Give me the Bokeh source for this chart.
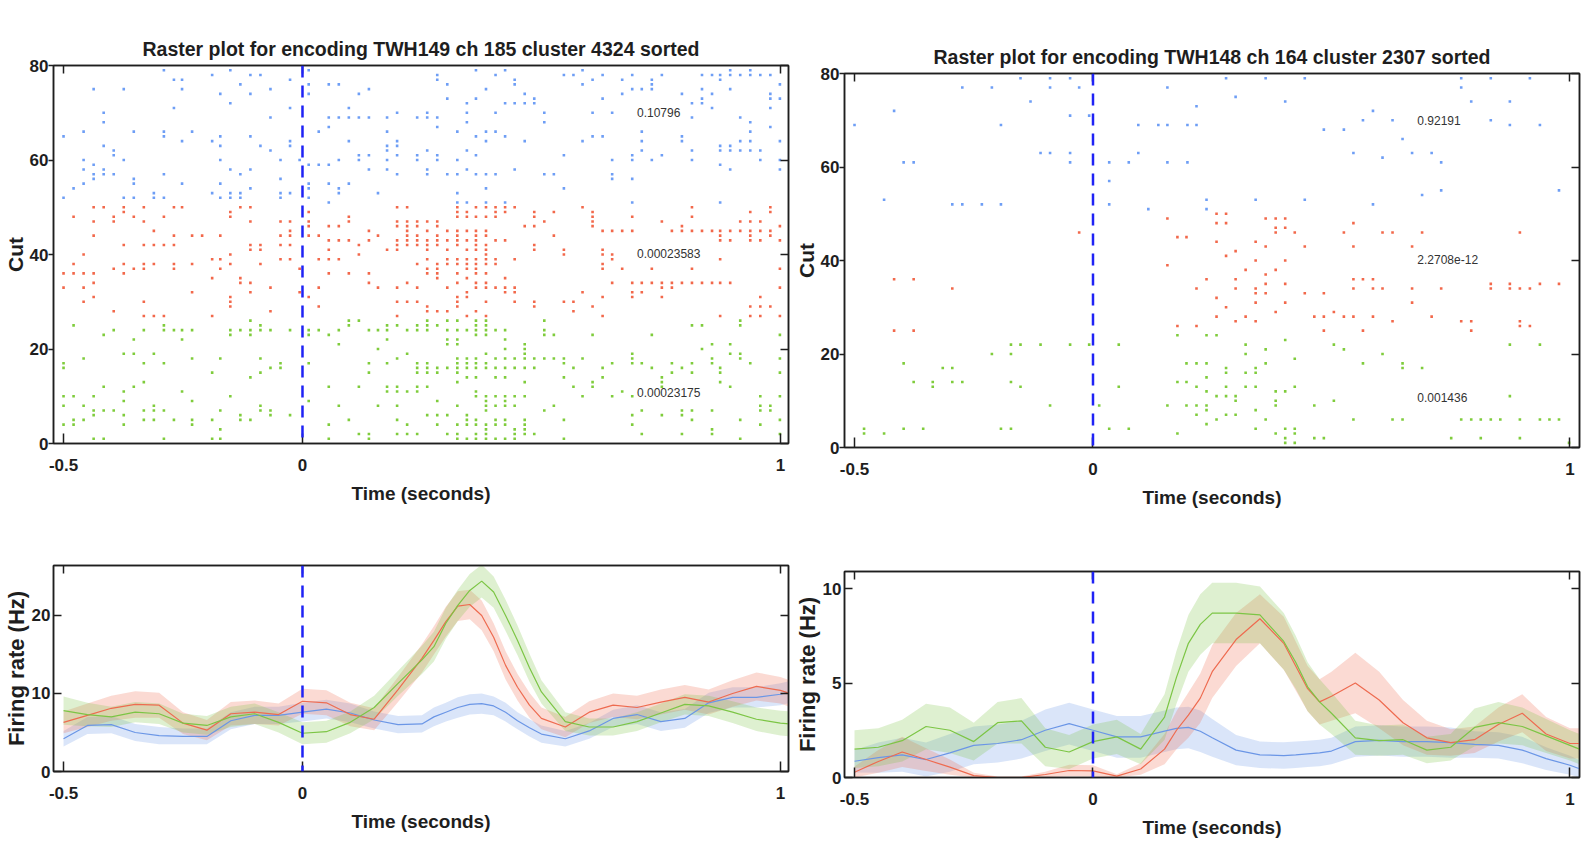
from bokeh.plotting import figure
from bokeh.models import Span, LinearAxis, FixedTicker, Range1d, CustomJSTickFormatter
from bokeh.layouts import column, row
from bokeh.embed import file_html
from bokeh.resources import INLINE
from bokeh.core.properties import value

# ---------------- data: raster spikes, (time, [trial numbers]) ----------------
L_BLUE = [(-0.500,[65,52]),(-0.479,[54]),(-0.458,[66,60,58,55]),(-0.437,[75,59,57,56]),(-0.416,[70,68,63,58,57]),
 (-0.395,[62,61,57]),(-0.374,[75,60,52]),(-0.353,[66,56,55,52]),(-0.311,[53,52]),(-0.290,[79,66,65,57,52]),
 (-0.269,[77,71]),(-0.252,[77,75,64,55]),(-0.231,[66]),(-0.189,[78,64,53]),(-0.172,[74,65,63,60,55,52]),
 (-0.151,[79,72,58,53,52]),(-0.130,[76,57,53,52]),(-0.109,[78,74,65,58,54]),(-0.088,[78,63]),(-0.067,[75,69,62]),
 (-0.046,[60,56,53,52]),(-0.026,[77,71,64,63,53]),(-0.006,[60]),(0.013,[79,76,74,59,55,54,52]),(0.034,[66,59]),
 (0.055,[76,69,67,59,55,51]),(0.076,[76,69,60,54,53]),(0.097,[71,69,64,55]),(0.118,[74,69,61,60]),
 (0.139,[75,69,61,58]),(0.158,[53]),(0.177,[69,66,63,62,60,58]),(0.198,[70,64,63,61,57]),(0.240,[69,61,60]),
 (0.261,[70,69,62,58,57]),(0.282,[78,77,69,67,61,60]),(0.303,[76,73,57]),(0.324,[66,60,57,53,51]),
 (0.344,[72,70,68,62,58,51]),(0.363,[79,73,65,61,57]),(0.384,[75,66,64,57,54,51]),(0.404,[78,70,66,57]),
 (0.424,[79,72,65,51]),(0.444,[77,76,72,58]),(0.465,[74,72,64]),(0.485,[73,72]),(0.506,[70,68,57]),(0.526,[57]),
 (0.547,[78,61,54]),(0.567,[78]),(0.586,[79,76,64]),(0.607,[77,70,65]),(0.628,[78,73,65]),(0.648,[70,60,57,56]),
 (0.669,[77,74]),(0.690,[78,75,61,60,56,51]),(0.710,[75,66,64,62]),(0.731,[77,76,75,60]),(0.752,[78,61]),
 (0.794,[74,65,64]),(0.815,[72,69,62,60]),(0.836,[78,75,73,72]),(0.857,[78,74,71]),(0.874,[78,77,63,62,59,51]),
 (0.895,[79,78,75,63,62,58]),(0.916,[78,69,64,62]),(0.937,[79,78,68,66,64,62]),(0.958,[78,62,60]),
 (0.979,[78,74,73,71,67]),(0.999,[76,73,64,60,58])]

L_RED = [(-0.500,[36,33]),(-0.479,[48,38,36]),(-0.458,[40,36,33,30]),(-0.437,[50,47,44,36,34,31]),(-0.416,[50]),
 (-0.395,[48,47,37,28]),(-0.374,[50,49,42,38,36]),(-0.353,[48,37]),(-0.332,[50,47,42,38,37,30,27]),
 (-0.311,[45,42,38,27]),(-0.290,[48,42,27]),(-0.269,[50,44,42,38,37]),(-0.252,[50]),(-0.231,[44,38,32]),
 (-0.210,[44]),(-0.189,[39,35,27]),(-0.172,[44,39,37]),(-0.151,[49,48,40,38,31,30,29]),(-0.130,[50,35,34]),
 (-0.109,[50,47,42,41,34,32]),(-0.088,[42,41,38]),(-0.067,[33,28]),(-0.046,[47,44,42,39]),
 (-0.026,[47,45,44,42,39]),(-0.006,[37,32]),(0.013,[49,47,46,44,31]),(0.034,[44,39,33,29]),
 (0.055,[46,43,41,39,36]),(0.076,[46,43,39]),(0.097,[48,47,43,36]),(0.118,[42,40]),(0.139,[45,43,36,34]),
 (0.158,[44,33]),(0.177,[41]),(0.198,[50,47,46,43,42,41,33,30,27]),(0.219,[50,47,46,45,44,43,42,34,30]),
 (0.240,[47,46,44,43,42,38,33,30]),(0.261,[47,45,43,42,41,39,37,36,29,28]),
 (0.282,[47,46,44,43,42,38,37,36,35,28]),(0.303,[45,43,41,39,38,33,28]),
 (0.324,[50,49,48,45,44,43,42,39,38,36,34,31,30,29]),(0.344,[49,48,45,43,41,39,38,37,35,32,31,27]),
 (0.363,[50,48,45,44,43,42,41,39,38,37,36,34,33,28]),(0.384,[50,48,45,44,42,41,40,39,38,36,34,33,30,27]),
 (0.404,[50,49,48,43,39,38,33]),(0.424,[50,49,43,35,33,32]),(0.444,[50,39,33,32,30]),(0.465,[46]),
 (0.485,[49,48,46,42,41,30,29]),(0.506,[47]),(0.526,[49,44]),(0.547,[41,40,30]),(0.567,[30,28]),(0.586,[50,32]),
 (0.607,[49,48,47,46,29]),(0.628,[45,41,40,38,37,31,27]),(0.648,[45,40,39,34]),(0.669,[45,37]),
 (0.690,[48,45,34,32,31]),(0.710,[34,32]),(0.731,[37,34]),(0.752,[47,34,33,31]),(0.773,[45,34,33]),
 (0.794,[46,45,34]),(0.815,[50,48,45,37,34]),(0.836,[45,34]),(0.857,[45,34]),(0.874,[45,44,43,39,34,27]),
 (0.895,[45,43,34]),(0.916,[47,45]),(0.937,[49,47,45,44,43,29,27]),(0.958,[47,45,43,31,29,27]),
 (0.979,[50,49,45,44,29]),(0.999,[46,43,37,33,27])]

L_GREEN = [(-0.500,[17,16,10,8,4]),(-0.479,[25,10,5,4]),(-0.458,[18,8,5]),(-0.437,[10,7,6,1]),(-0.416,[23,12,7,1]),
 (-0.395,[24,7]),(-0.374,[19,11,9,6,4]),(-0.353,[22,19,12]),(-0.332,[24,17,13,7,5]),(-0.311,[19,8,7,5]),
 (-0.290,[25,24,17,7,1]),(-0.269,[24,5]),(-0.252,[24,22,11]),(-0.231,[24,18,9,5,4]),(-0.189,[15,5,1]),
 (-0.172,[18,7,3,1]),(-0.151,[24,23,10]),(-0.130,[24,6,5]),(-0.109,[26,24,23,14,5]),(-0.088,[25,24,18,15,8,7]),
 (-0.067,[24,16,7,6]),(-0.046,[17,16]),(-0.026,[24,6]),(0.013,[24,23,17,9]),(0.034,[24]),(0.055,[23,12,4,1]),
 (0.076,[24,21,8]),(0.097,[26,25,5]),(0.118,[26,12,2]),(0.139,[24,17,15,2,1]),(0.158,[24,20,8]),
 (0.177,[25,24,22,17,12,11]),(0.198,[25,18,12,11,8,5,2]),(0.219,[24,19,11,4,2]),(0.240,[25,24,17,16,15,12,11,2]),
 (0.261,[26,25,24,17,16,15,12,6]),(0.282,[25,16,15,9,6,4]),(0.303,[26,24,22,21,16,6,2]),
 (0.324,[26,24,22,21,18,17,16,15,13,8,4,2,1]),(0.344,[24,18,17,16,14,6,5,4,1]),
 (0.363,[26,25,24,23,18,17,16,14,11,10,5,4,2,1]),(0.384,[26,25,24,23,19,17,16,10,9,8,7,4,3,2,1]),
 (0.404,[24,18,16,14,10,8,5,4,1]),(0.424,[24,22,20,18,16,14,10,9,8,5,4,1]),(0.444,[18,16,10,8,3,2,1]),
 (0.465,[21,20,19,18,16,13,10,5,4,3,2]),(0.485,[18,16,2]),(0.506,[26,24,23,18,7]),(0.526,[23,18,8]),
 (0.547,[18,17,14,5,1]),(0.567,[16,12]),(0.586,[18,10]),(0.607,[23,13,12]),(0.628,[16,14]),(0.648,[17,10]),
 (0.669,[11]),(0.690,[19,18,17,10,6,4]),(0.710,[17,7,2]),(0.731,[23,16]),(0.752,[14,13,12,6]),(0.773,[17,15]),
 (0.794,[16,7,6,2]),(0.815,[25,17,15,7,5]),(0.836,[25,20]),(0.857,[21,18,17,7,3,2]),(0.874,[16,15,13]),
 (0.895,[21,19,12]),(0.916,[26,25,19,18,5,1]),(0.937,[17]),(0.958,[10,8,7,4]),(0.979,[8,7]),
 (0.999,[23,18,15,10,5,2])]

R_BLUE = [(-0.500,[69]),(-0.438,[53]),(-0.417,[72]),(-0.397,[61]),(-0.376,[61]),(-0.295,[52]),(-0.274,[77,52]),
 (-0.233,[52]),(-0.212,[77]),(-0.193,[69,52]),(-0.152,[79]),(-0.131,[74]),(-0.110,[63]),(-0.090,[79,77,63]),
 (-0.048,[79,71,63,61]),(-0.029,[77]),(-0.008,[71]),(0.034,[61,57,52]),(0.075,[61]),(0.095,[69,63]),(0.116,[51]),
 (0.137,[69]),(0.156,[77,69,61]),(0.198,[69,61]),(0.217,[73,69]),(0.238,[53,51]),(0.279,[79]),(0.299,[75]),
 (0.341,[53]),(0.362,[79]),(0.403,[74]),(0.444,[79,53]),(0.484,[68]),(0.526,[68]),(0.546,[63]),(0.566,[70]),
 (0.587,[72,52]),(0.607,[62]),(0.628,[70]),(0.649,[66]),(0.669,[63]),(0.690,[54]),(0.710,[63]),(0.730,[61,55]),
 (0.772,[79,77]),(0.793,[74]),(0.834,[79,70]),(0.874,[74,69]),(0.916,[79]),(0.937,[69]),(0.977,[55])]

R_RED = [(-0.417,[36,25]),(-0.376,[36,25]),(-0.295,[34]),(-0.029,[46]),(0.156,[49,39]),(0.177,[45,26]),
 (0.196,[45]),(0.217,[34,26]),(0.238,[36]),(0.259,[50,48,44,32,28]),(0.279,[50,48,41,30]),(0.299,[42,36,34,27]),
 (0.320,[38,28]),(0.341,[44,40,34,33,31,27]),(0.362,[49,43,37,35,33]),(0.383,[49,47,46,38,29]),
 (0.403,[49,47,40,35,31]),(0.423,[46]),(0.444,[43,33]),(0.464,[28]),(0.484,[33,28,25]),(0.505,[29]),
 (0.526,[46,28]),(0.546,[48,43,36,34,28]),(0.566,[36,25]),(0.587,[36,34,28]),(0.607,[46,34]),(0.628,[46,27]),
 (0.669,[43,34,31]),(0.690,[46]),(0.710,[28]),(0.730,[34]),(0.772,[27]),(0.793,[27,25]),(0.834,[35,34]),
 (0.874,[35,34]),(0.895,[46,34,27,26]),(0.916,[34,26]),(0.937,[35]),(0.977,[35])]

R_GREEN = [(-0.480,[4,3]),(-0.438,[3]),(-0.397,[18,4]),(-0.376,[14]),(-0.356,[4]),(-0.336,[14,13]),(-0.315,[17]),
 (-0.295,[17,14]),(-0.274,[14]),(-0.212,[20]),(-0.193,[4]),(-0.172,[22,20,14,4]),(-0.152,[22,13]),(-0.110,[22]),
 (-0.090,[9]),(-0.048,[22]),(-0.008,[22]),(0.013,[9]),(0.034,[4]),(0.054,[22,13]),(0.075,[4]),(0.156,[9]),
 (0.177,[24,14,3]),(0.196,[18,14,9]),(0.217,[18,13,9,7]),(0.238,[24,18,15,12,9,8,5]),(0.259,[24,11,6]),
 (0.279,[17,16,13,11,7]),(0.299,[11,10,7]),(0.320,[22,20,16,13]),(0.341,[17,16,13,8,4]),(0.362,[21,18,6]),
 (0.383,[12,10,9,3]),(0.403,[23,12,4,2,1]),(0.423,[19,13,4,3,1]),(0.464,[9,2]),(0.484,[2]),(0.505,[22,10]),
 (0.526,[21]),(0.546,[6]),(0.566,[18]),(0.607,[20]),(0.628,[6]),(0.649,[18,17,6]),(0.690,[17]),(0.751,[2]),
 (0.772,[6]),(0.793,[6]),(0.813,[6,2]),(0.834,[6]),(0.854,[6]),(0.874,[22,11]),(0.895,[6,2]),(0.937,[22,6]),
 (0.957,[6]),(0.977,[6]),(0.998,[1])]

# ---------------- data: p-values printed in rasters ----------------
L_PVALS = ["0.10796", "0.00023583", "0.00023175"]
R_PVALS = ["0.92191", "2.2708e-12", "0.001436"]

# ---------------- data: firing rates (Hz) and SEM, left panel ----------------
T_L = [-0.5,-0.45,-0.4,-0.35,-0.3,-0.25,-0.2,-0.15,-0.1,-0.05,0.0,0.05,0.1,0.15,0.2,0.25,
       0.275,0.3,0.325,0.35,0.375,0.4,0.425,0.45,0.475,
       0.5,0.55,0.6,0.65,0.7,0.75,0.8,0.85,0.9,0.95,1.0,1.02]
L_FR_BLUE = [4.2,5.9,6.0,5.0,4.6,4.5,4.5,6.5,7.2,7.2,7.6,8.0,7.5,6.6,6.0,6.1,
             7.0,7.6,8.2,8.6,8.7,8.4,7.6,6.5,5.6,
             4.8,4.2,5.2,6.8,7.3,6.4,6.8,8.8,9.5,9.5,9.9,10.2]
L_SEM_BLUE = [1.0,1.1,1.1,1.1,1.1,1.0,1.0,1.1,1.1,1.1,1.2,1.2,1.2,1.1,1.1,1.1,
              1.2,1.2,1.3,1.3,1.3,1.2,1.2,1.1,1.1,
              1.1,1.0,1.0,1.1,1.2,1.2,1.2,1.3,1.3,1.3,1.4,1.4]
L_FR_RED = [6.3,7.2,8.1,8.6,8.5,6.2,5.3,7.4,7.6,7.3,9.0,8.8,7.3,6.7,10.5,14.5,
            16.8,19.2,21.2,21.4,20.0,17.2,13.6,10.8,8.5,
            6.8,5.7,7.6,8.5,8.2,8.9,9.5,8.9,10.0,10.9,10.4,10.0]
L_SEM_RED = [1.4,1.5,1.6,1.7,1.6,1.4,1.3,1.5,1.5,1.4,1.6,1.6,1.5,1.4,1.6,1.8,
             1.8,1.9,1.9,1.9,1.9,1.8,1.8,1.7,1.6,
             1.4,1.3,1.4,1.5,1.5,1.6,1.6,1.6,1.7,1.8,1.7,1.7]
L_FR_GREEN = [7.8,7.3,7.0,7.6,7.4,6.2,5.9,7.0,7.4,6.3,4.9,5.1,6.3,8.2,11.3,14.3,
              16.0,19.0,21.3,23.2,24.4,23.0,20.0,16.8,13.3,
              10.2,6.4,5.7,5.7,6.4,7.5,8.6,8.4,7.6,6.7,6.2,6.1]
L_SEM_GREEN = [1.8,1.5,1.3,1.3,1.3,1.2,1.2,1.3,1.3,1.3,1.4,1.4,1.4,1.5,1.6,1.8,
               1.9,2.0,2.0,2.1,2.1,2.0,2.0,1.9,1.8,
               1.5,1.2,1.1,1.1,1.2,1.2,1.3,1.3,1.4,1.5,1.6,1.6]

# ---------------- data: firing rates (Hz) and SEM, right panel ----------------
T_R = [-0.5,-0.45,-0.4,-0.35,-0.3,-0.25,-0.2,-0.15,-0.1,-0.05,0.0,0.05,0.1,0.15,
       0.175,0.2,0.225,0.25,0.3,0.35,0.4,0.425,0.45,0.475,
       0.5,0.55,0.6,0.65,0.7,0.75,0.8,0.85,0.9,0.95,1.0,1.02]
R_FR_BLUE = [0.86,1.05,1.2,0.95,1.3,1.7,1.8,2.0,2.5,2.85,2.5,2.15,2.15,2.45,
             2.6,2.65,2.45,2.1,1.45,1.2,1.16,1.2,1.25,1.3,
             1.4,1.9,1.96,1.9,1.9,1.85,1.75,1.7,1.45,1.0,0.65,0.46]
R_SEM_BLUE = [0.6,0.8,0.9,0.9,1.0,1.0,1.0,1.0,1.1,1.1,1.1,1.1,1.1,1.1,
              1.1,1.1,1.1,1.0,0.8,0.7,0.7,0.7,0.7,0.7,
              0.7,0.8,0.8,0.8,0.8,0.8,0.7,0.7,0.7,0.6,0.5,0.45]
R_FR_RED = [0.28,0.85,1.35,0.95,0.55,0.1,0.0,0.0,0.16,0.37,0.35,0.07,0.45,1.5,
            2.5,3.3,4.2,5.6,7.3,8.4,7.1,5.9,4.7,4.0,
            4.3,5.0,4.1,2.9,2.1,1.85,2.0,2.8,3.4,2.3,1.8,1.8]
R_SEM_RED = [0.3,0.6,0.8,0.6,0.4,0.15,0.05,0.05,0.15,0.3,0.3,0.1,0.3,0.8,
             1.0,1.2,1.3,1.4,1.4,1.3,1.4,1.3,1.2,1.2,
             1.3,1.6,1.5,1.2,0.9,0.7,0.7,0.9,1.0,0.9,0.8,0.8]
R_FR_GREEN = [1.5,1.6,1.95,2.7,2.5,1.9,2.9,3.0,1.6,1.35,1.9,2.15,1.5,3.2,
              5.3,7.1,8.1,8.7,8.7,8.6,7.2,6.1,4.8,4.0,
              3.4,2.1,1.95,2.0,1.45,1.6,2.65,2.9,2.7,2.2,1.7,1.5]
R_SEM_GREEN = [1.0,1.0,1.1,1.2,1.2,1.0,1.1,1.2,1.0,0.9,0.9,0.9,0.8,1.2,
               1.4,1.5,1.6,1.6,1.6,1.5,1.5,1.4,1.3,1.2,
               1.1,0.9,0.8,0.8,0.7,0.7,1.0,1.1,1.0,0.9,0.8,0.8]

# ---------------- style ----------------
FONT = "Liberation Sans"
INK = "#1e1e1e"
C_BLUE, C_RED, C_GREEN = "#6b96e6", "#ee6b50", "#7cc545"
DOT_BLUE, DOT_RED, DOT_GREEN = "#6e9ef5", "#f2684b", "#7fcc3c"
X_TICKS = [-0.5, 0, 1]


def expand(groups):
    ts, ys = [], []
    for t, trials in groups:
        for tr in trials:
            ts.append(t)
            ys.append(tr)
    return ts, ys


def make_fig(w, h, xr, yr, borders, title=None):
    p = figure(width=w, height=h, x_range=Range1d(*xr), y_range=Range1d(*yr),
               output_backend="svg", toolbar_location=None,
               min_border_left=borders[0], min_border_right=borders[1],
               min_border_top=borders[2], min_border_bottom=borders[3])
    p.xgrid.visible = False
    p.ygrid.visible = False
    p.outline_line_color = INK
    p.outline_line_width = 1.5
    p.background_fill_color = "white"
    p.border_fill_color = "white"
    if title:
        p.title.text = title
        p.title.align = "center"
        p.title.text_font = FONT
        p.title.text_font_style = "bold"
        p.title.text_font_size = "19.5px"
        p.title.text_color = INK
        p.title.standoff = 11
    return p


def style_axes(p, yticks, ylabel, ylabel_size, raster_axes):
    xa, ya = p.xaxis[0], p.yaxis[0]
    xa.ticker = FixedTicker(ticks=X_TICKS)
    xa.formatter = CustomJSTickFormatter(code="return tick.toString();")
    ya.ticker = FixedTicker(ticks=yticks)
    xa.axis_label = "Time (seconds)"
    ya.axis_label = ylabel
    for ax in (xa, ya):
        ax.axis_line_color = INK
        ax.axis_line_width = 1.5
        ax.major_tick_line_color = INK
        ax.major_tick_line_width = 1.5
        ax.minor_tick_line_color = None
        ax.major_label_text_font = FONT
        ax.major_label_text_font_style = "bold"
        ax.major_label_text_font_size = "17px"
        ax.major_label_text_color = INK
        ax.axis_label_text_font = FONT
        ax.axis_label_text_font_style = "bold"
        ax.axis_label_text_color = INK
    xa.major_tick_in = 10
    xa.major_tick_out = 0
    xa.major_label_standoff = 15
    xa.axis_label_standoff = 9
    xa.axis_label_text_font_size = "19px"
    if raster_axes:
        ya.major_tick_in = 0
        ya.major_tick_out = 5
        ya.major_label_standoff = 0
        ya.axis_label_standoff = 0
    else:
        ya.major_tick_in = 8
        ya.major_tick_out = 0
        ya.major_label_standoff = 3
        ya.axis_label_standoff = 0
    ya.axis_label_text_font_size = ylabel_size
    # box ticks on top and right
    for side, ticks in (("above", X_TICKS), ("right", yticks)):
        ax = LinearAxis(ticker=FixedTicker(ticks=ticks),
                        formatter=CustomJSTickFormatter(code="return '';"),
                        major_tick_in=8, major_tick_out=0, minor_tick_line_color=None,
                        major_label_standoff=0, major_label_text_font_size="1px",
                        axis_line_color=INK, axis_line_width=1.5,
                        major_tick_line_color=INK, major_tick_line_width=1.5)
        p.add_layout(ax, side)
    p.add_layout(Span(location=0, dimension="height", line_color="#1f22f5",
                      line_width=2.5, line_dash="12 8"))


def raster(p, blue, red, green, pvals, px):
    for groups, col in ((blue, DOT_BLUE), (red, DOT_RED), (green, DOT_GREEN)):
        ts, ys = expand(groups)
        p.scatter(ts, ys, marker="square", size=2.6, fill_color=col, line_color=None)
    p.text(x=[px] * 3, y=[70, 40.3, 10.8], text=pvals, text_font=value(FONT),
           text_font_size="12px", text_color="#333333", text_baseline="middle", text_align="left")


def rates(p, t, series):
    for mean, sem, col in series:
        lo = [max(m - s, 0.0) for m, s in zip(mean, sem)]
        hi = [m + s for m, s in zip(mean, sem)]
        p.varea(x=t, y1=lo, y2=hi, fill_color=col, fill_alpha=0.25)
    for mean, sem, col in series:
        p.line(t, mean, line_color=col, line_width=1.2)


# ---------------- figures ----------------
p1 = make_fig(790, 510, (-0.521, 1.017), (0, 80), (53, 2, 65, 67),
              "Raster plot for encoding TWH149 ch 185 cluster 4324 sorted")
style_axes(p1, [0, 20, 40, 60, 80], "Cut", "21px", True)
raster(p1, L_BLUE, L_RED, L_GREEN, L_PVALS, 0.70)

p2 = make_fig(793, 510, (-0.521, 1.020), (0, 80), (54, 4, 73, 61),
              "Raster plot for encoding TWH148 ch 164 cluster 2307 sorted")
style_axes(p2, [0, 20, 40, 60, 80], "Cut", "21px", True)
raster(p2, R_BLUE, R_RED, R_GREEN, R_PVALS, 0.68)

p3 = make_fig(790, 346, (-0.521, 1.017), (0, 26.4), (53, 2, 55, 85))
style_axes(p3, [0, 10, 20], "Firing rate (Hz)", "22px", False)
rates(p3, T_L, [(L_FR_BLUE, L_SEM_BLUE, C_BLUE), (L_FR_RED, L_SEM_RED, C_RED),
                (L_FR_GREEN, L_SEM_GREEN, C_GREEN)])

p4 = make_fig(793, 346, (-0.521, 1.020), (0, 10.9), (54, 4, 61, 79))
style_axes(p4, [0, 5, 10], "Firing rate (Hz)", "22px", False)
rates(p4, T_R, [(R_FR_BLUE, R_SEM_BLUE, C_BLUE), (R_FR_RED, R_SEM_RED, C_RED),
                (R_FR_GREEN, R_SEM_GREEN, C_GREEN)])

layout = row(column(p1, p3), column(p2, p4))
open("out.html", "w").write(file_html(layout, INLINE))
